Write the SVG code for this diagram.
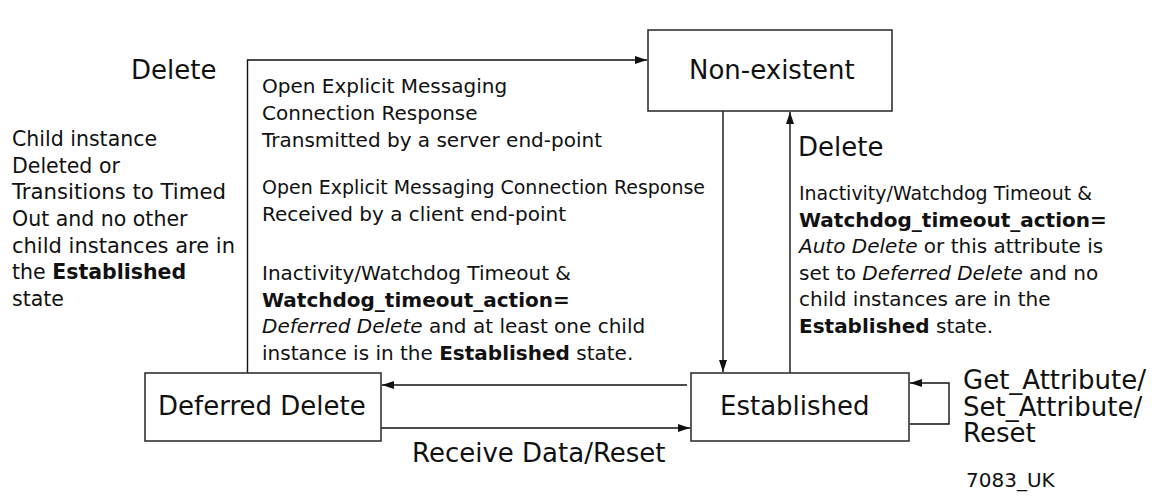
<svg xmlns="http://www.w3.org/2000/svg" width="1162" height="496" viewBox="0 0 1162 496">
<style>
text{font-family:"DejaVu Sans","Liberation Sans",sans-serif;fill:#111}
.lbl{font-size:26px}
.body{font-size:20px}
.left{font-size:20.5px}
.b{font-weight:bold}
.i{font-style:italic}
.box{fill:#fff;stroke:#333;stroke-width:1.6}
.ln{fill:none;stroke:#111;stroke-width:1.4}
</style>
<defs>
<marker id="ah" viewBox="0 0 12 8" refX="12" refY="4" markerWidth="12" markerHeight="8" markerUnits="userSpaceOnUse" orient="auto">
<path d="M0,0 L12,4 L0,8 Z" fill="#111"/>
</marker>
</defs>
<rect width="1162" height="496" fill="#fff"/>
<g id="connectors">
<polyline class="ln" points="247.5,373 247.5,60 647,60" marker-end="url(#ah)"/>
<line class="ln" x1="723" y1="111" x2="723" y2="372" marker-end="url(#ah)"/>
<line class="ln" x1="790" y1="373" x2="790" y2="112" marker-end="url(#ah)"/>
<line class="ln" x1="687" y1="385" x2="382" y2="385" marker-end="url(#ah)"/>
<line class="ln" x1="381" y1="428" x2="690" y2="428" marker-end="url(#ah)"/>
<polyline class="ln" points="910,424 949,424 949,383 910,383" marker-end="url(#ah)"/>
</g>
<g id="non-existent">
<rect class="box" x="648" y="30" width="244" height="81"/>
<text class="lbl" x="689" y="79">Non-existent</text>
</g>
<g id="established">
<rect class="box" x="691" y="373" width="218" height="68"/>
<text class="lbl" x="720" y="415">Established</text>
</g>
<g id="deferred-delete">
<rect class="box" x="145" y="373" width="236" height="68"/>
<text class="lbl" x="158" y="415">Deferred Delete</text>
</g>
<g id="labels">
<text class="lbl" x="131" y="79">Delete</text>
<text class="left">
<tspan x="12" y="146">Child instance</tspan>
<tspan x="12" y="172.7">Deleted or</tspan>
<tspan x="12" y="199.3" textLength="214" lengthAdjust="spacingAndGlyphs">Transitions to Timed</tspan>
<tspan x="12" y="226">Out and no other</tspan>
<tspan x="12" y="252.7" textLength="223" lengthAdjust="spacingAndGlyphs">child instances are in</tspan>
<tspan x="12" y="279.3">the <tspan class="b">Established</tspan></tspan>
<tspan x="12" y="306">state</tspan>
</text>
<text class="body">
<tspan x="262" y="93.3">Open Explicit Messaging</tspan>
<tspan x="262" y="120">Connection Response</tspan>
<tspan x="262" y="146.7">Transmitted by a server end-point</tspan>
<tspan x="262" y="194" textLength="443" lengthAdjust="spacingAndGlyphs">Open Explicit Messaging Connection Response</tspan>
<tspan x="262" y="220.5">Received by a client end-point</tspan>
<tspan x="262" y="280">Inactivity/Watchdog Timeout &amp;</tspan>
<tspan x="262" y="306.7" class="b">Watchdog_timeout_action=</tspan>
<tspan x="262" y="333.3"><tspan class="i">Deferred Delete</tspan> and at least one child</tspan>
<tspan x="262" y="360">instance is in the <tspan class="b">Established</tspan> state.</tspan>
</text>
<text class="lbl" x="798" y="156">Delete</text>
<text class="body">
<tspan x="799" y="200" textLength="293" lengthAdjust="spacingAndGlyphs">Inactivity/Watchdog Timeout &amp;</tspan>
<tspan x="799" y="226.5" class="b">Watchdog_timeout_action=</tspan>
<tspan x="799" y="253"><tspan class="i">Auto Delete</tspan> or this attribute is</tspan>
<tspan x="799" y="279.6">set to <tspan class="i">Deferred Delete</tspan> and no</tspan>
<tspan x="799" y="306.3">child instances are in the</tspan>
<tspan x="799" y="333"><tspan class="b">Established</tspan> state.</tspan>
</text>
<text class="lbl" x="412" y="462">Receive Data/Reset</text>
<text class="lbl">
<tspan x="963" y="389">Get_Attribute/</tspan>
<tspan x="963" y="416">Set_Attribute/</tspan>
<tspan x="963" y="442">Reset</tspan>
</text>
<text class="body" x="966" y="487">7083_UK</text>
</g>
</svg>
